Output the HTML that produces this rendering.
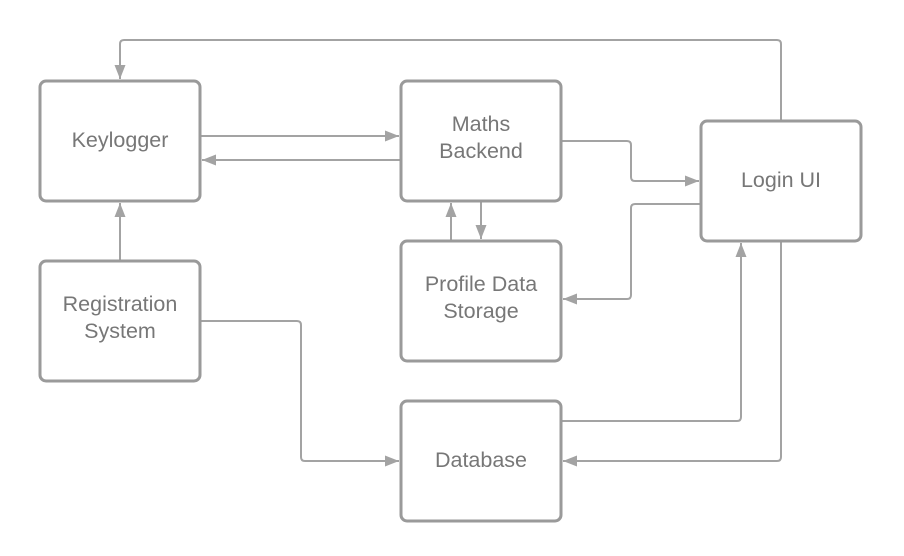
<!DOCTYPE html>
<html><head><style>body{margin:0;background:#fff}svg{display:block}</style></head><body>
<svg width="904" height="556" viewBox="0 0 904 556" xmlns="http://www.w3.org/2000/svg">
<defs><marker id="a" markerWidth="14" markerHeight="11" refX="14" refY="5.5" orient="auto" markerUnits="userSpaceOnUse"><path d="M0,0L14,5.5L0,11Z" fill="#a3a3a3"/></marker></defs>
<g fill="none" stroke="#a3a3a3" stroke-width="2" stroke-linejoin="round" marker-end="url(#a)">
<path d="M781,121V44Q781,40 777,40H124Q120,40 120,44V79"/>
<path d="M200,136H399"/>
<path d="M401,160H202"/>
<path d="M561,141H627Q631,141 631,145V177Q631,181 635,181H699"/>
<path d="M481,201V239"/>
<path d="M451,241V203"/>
<path d="M701,204H635Q631,204 631,208V295Q631,299 627,299H563"/>
<path d="M120,261V203"/>
<path d="M200,321H297Q301,321 301,325V457Q301,461 305,461H399"/>
<path d="M561,421H737Q741,421 741,417V243"/>
<path d="M781,241V457Q781,461 777,461H563"/>
</g>
<g fill="#fff" stroke="#9a9a9a" stroke-width="3">
<rect x="40" y="81" width="160" height="120" rx="6"/>
<rect x="401" y="81" width="160" height="120" rx="6"/>
<rect x="701" y="121" width="160" height="120" rx="6"/>
<rect x="401" y="241" width="160" height="120" rx="6"/>
<rect x="40" y="261" width="160" height="120" rx="6"/>
<rect x="401" y="401" width="160" height="120" rx="6"/>
</g>
<g font-family="Liberation Sans, sans-serif" font-size="21.5" fill="#777" text-anchor="middle">
<text x="120" y="147">Keylogger</text>
<text x="481" y="131">Maths</text><text x="481" y="158">Backend</text>
<text x="781" y="187">Login UI</text>
<text x="481" y="291">Profile Data</text><text x="481" y="318">Storage</text>
<text x="120" y="311">Registration</text><text x="120" y="338">System</text>
<text x="481" y="467">Database</text>
</g>
</svg>
</body></html>
